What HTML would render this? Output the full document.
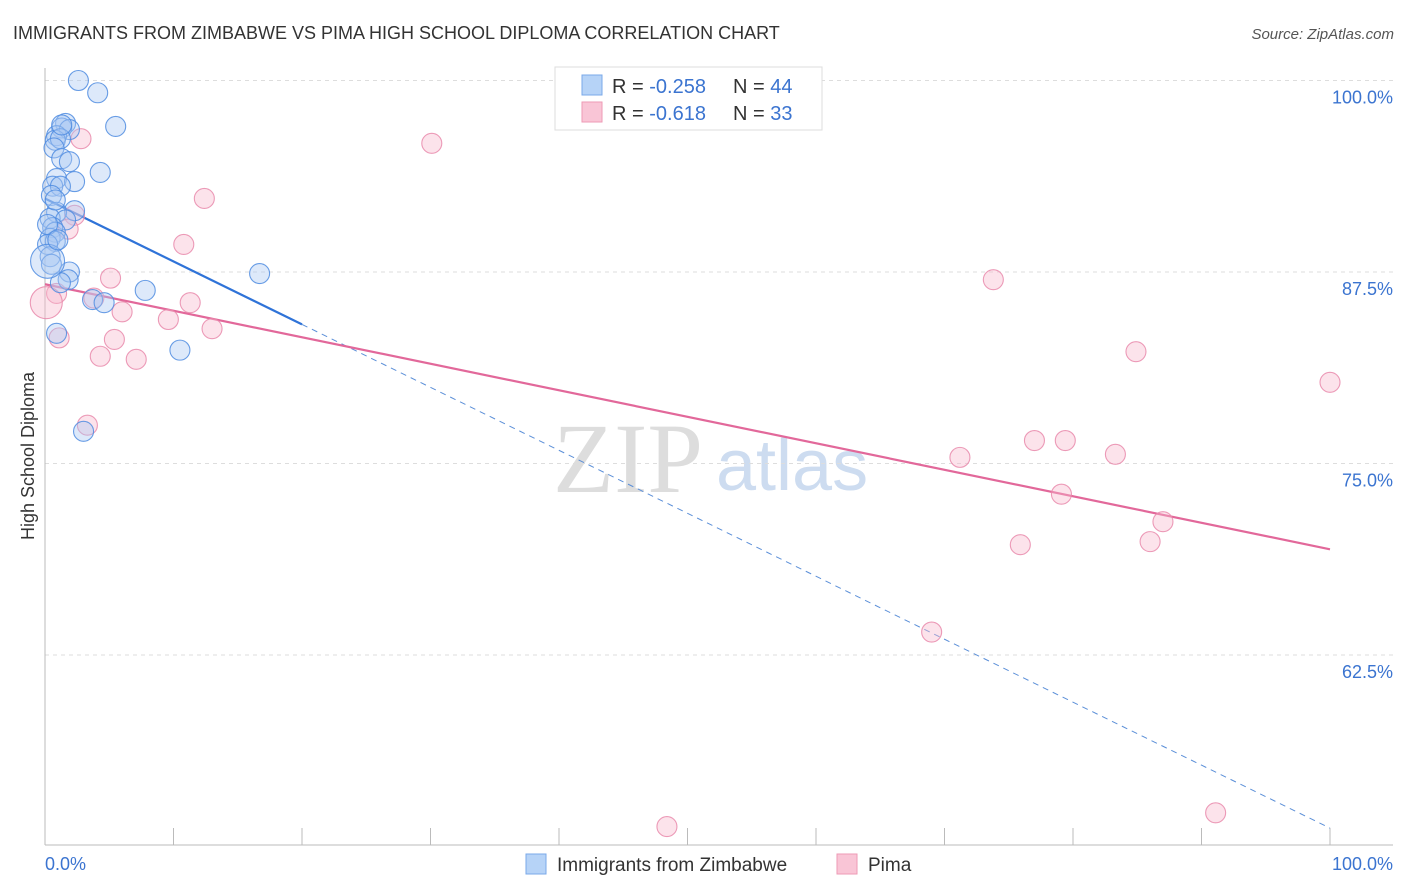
<!DOCTYPE html>
<html><head><meta charset="utf-8">
<style>
body{margin:0;background:#fff;font-family:"Liberation Sans",sans-serif;}
svg{display:block}
</style></head><body>
<svg id="chart" width="1406" height="892">
<text x="13" y="39" font-size="18" fill="#333">IMMIGRANTS FROM ZIMBABWE VS PIMA HIGH SCHOOL DIPLOMA CORRELATION CHART</text>
<text x="1394" y="39" font-size="15" fill="#555" font-style="italic" text-anchor="end">Source: ZipAtlas.com</text>
<text x="553" y="492" font-size="100" fill="#ddd" font-family="Liberation Serif,serif">ZIP</text>
<text x="716" y="490" font-size="72" fill="#cddcf0">atlas</text>
<text transform="translate(34,456) rotate(-90)" font-size="18" fill="#333" text-anchor="middle">High School Diploma</text>
<g id="grid"></g><g id="ticks"></g><g id="lines"></g><g id="pts"></g>
<g>
<rect x="555" y="67" width="267" height="63" fill="#fff" stroke="#ddd"/>
<rect x="582" y="75" width="20" height="20" fill="#b6d3f7" stroke="#7aa8e8"/>
<rect x="582" y="102" width="20" height="20" fill="#f9c5d6" stroke="#ee9ab5"/>
<text x="612" y="93" font-size="20" fill="#333">R = <tspan fill="#3b74d0">-0.258</tspan></text>
<text x="733" y="93" font-size="20" fill="#333">N = <tspan fill="#3b74d0">44</tspan></text>
<text x="612" y="120" font-size="20" fill="#333">R = <tspan fill="#3b74d0"> -0.618</tspan></text>
<text x="733" y="120" font-size="20" fill="#333">N = <tspan fill="#3b74d0"> 33</tspan></text>
</g>
<g>
<rect x="526" y="854" width="20" height="20" fill="#b6d3f7" stroke="#7aa8e8"/>
<text x="557" y="871" font-size="19" fill="#333">Immigrants from Zimbabwe</text>
<rect x="837" y="854" width="20" height="20" fill="#f9c5d6" stroke="#ee9ab5"/>
<text x="868" y="871" font-size="19" fill="#333">Pima</text>
</g>
</svg>
<script>
const yTicks=[100,87.5,75,62.5];
const yTickLabels=["100.0%","87.5%","75.0%","62.5%"];
const xTickLabels=["0.0%","100.0%"];
const blueX=[2.6,4.1,5.5,1.6,1.3,1.9,0.9,0.8,1.2,0.7,1.3,1.9,4.3,0.9,2.3,0.6,1.2,0.5,2.3,0.9,0.4,1.6,0.6,0.8,0.4,0.8,0.2,0.4,0.5,1.9,1.8,1.2,3.7,4.6,7.8,16.7,10.5,0.9,3.0,0.2,1.3,0.8,0.2,1.0];
const blueY=[100.0,99.2,97.0,97.2,96.9,96.8,96.4,96.1,96.2,95.6,94.9,94.7,94.0,93.6,93.4,93.1,93.1,92.5,91.5,91.4,91.0,90.9,90.4,90.1,89.7,89.5,89.3,88.5,88.0,87.5,87.0,86.8,85.7,85.5,86.3,87.4,82.4,83.5,77.1,88.2,97.1,92.2,90.6,89.6];
const blueR=[10,10,10,10,10,10,10,10,10,10,10,10,10,10,10,10,10,10,10,10,10,10,10,10,10,10,10,10,10,10,10,10,10,10,10,10,10,10,10,17,10,10,10,10];
const pinkX=[2.8,30.1,12.4,2.3,1.8,10.8,5.1,0.9,3.8,11.3,6.0,9.6,13.0,1.1,5.4,4.3,7.1,3.3,73.8,84.9,100.0,71.2,77.0,79.4,83.3,79.1,87.0,75.9,86.0,69.0,48.4,91.1,0.1];
const pinkY=[96.2,95.9,92.3,91.2,90.3,89.3,87.1,86.1,85.8,85.5,84.9,84.4,83.8,83.2,83.1,82.0,81.8,77.5,87.0,82.3,80.3,75.4,76.5,76.5,75.6,73.0,71.2,69.7,69.9,64.0,51.3,52.2,85.5];
const pinkR=[10,10,10,10,10,10,10,10,10,10,10,10,10,10,10,10,10,10,10,10,10,10,10,10,10,10,10,10,10,10,10,10,16];
const blueTrend=[92.3,-0.411];
const pinkTrend=[86.7,-0.173];
const X0=45,X1=1330,YT=80.5,PX=15.32;
const sx=v=>X0+(X1-X0)*v/100;
const sy=v=>YT+(100-v)*PX;
const NS="http://www.w3.org/2000/svg";
function mk(t,a,p){const e=document.createElementNS(NS,t);for(const k in a)e.setAttribute(k,a[k]);p.appendChild(e);return e;}
const grid=document.getElementById('grid'),ticks=document.getElementById('ticks'),lines=document.getElementById('lines'),pts=document.getElementById('pts');
yTicks.forEach((t,i)=>{
 const l=mk('line',{x1:45,x2:1393,y1:sy(t),y2:sy(t),stroke:'#ddd','stroke-dasharray':'4,4'},grid);
 
 
 const tx=mk('text',{x:1393,y:sy(t)+23,'font-size':18,fill:'#3b74d0','text-anchor':'end'},ticks);
 tx.textContent=yTickLabels[i];
 
 
});
const ax=mk('line',{x1:45,x2:45,y1:68,y2:845,stroke:'#bbb'},ticks);


const bx=mk('line',{x1:45,x2:1393,y1:845,y2:845,stroke:'#bbb'},ticks);


for(let i=0;i<=10;i++){
 const t=mk('line',{x1:sx(i*10),x2:sx(i*10),y1:828,y2:845,stroke:'#bbb'},ticks);
 
 
}
[[0,'start',45],[1,'end',1393]].forEach(([i,a,x])=>{
 const t=mk('text',{x:x,y:870,'font-size':18,fill:'#3b74d0','text-anchor':a},ticks);
 t.textContent=xTickLabels[i];
 
 
});
function drawPts(X,Y,R,fill,stroke,name){
 X.forEach((x,i)=>{
  const c=mk('circle',{cx:sx(x),cy:sy(Y[i]),r:R[i],fill:fill,'fill-opacity':0.4,stroke:stroke,'stroke-width':1.1,'stroke-opacity':0.85},pts);
  
  
 });
}
drawPts(pinkX,pinkY,pinkR,'#f7b8cc','#e98aab','pima-point');
drawPts(blueX,blueY,blueR,'#a9c9f2','#4f8ce0','zimbabwe-point');
const bl=mk('line',{x1:sx(0),y1:sy(blueTrend[0]),x2:sx(20),y2:sy(blueTrend[0]+blueTrend[1]*20),stroke:'#2f73d8','stroke-width':2.2},lines);


const bd=mk('line',{x1:sx(20),y1:sy(blueTrend[0]+blueTrend[1]*20),x2:sx(100),y2:sy(blueTrend[0]+blueTrend[1]*100),stroke:'#5b8fd8','stroke-width':1,'stroke-dasharray':'6,5'},lines);


const pl=mk('line',{x1:sx(0),y1:sy(pinkTrend[0]),x2:sx(100),y2:sy(pinkTrend[0]+pinkTrend[1]*100),stroke:'#e2689a','stroke-width':2.2},lines);


</script>
</body></html>
